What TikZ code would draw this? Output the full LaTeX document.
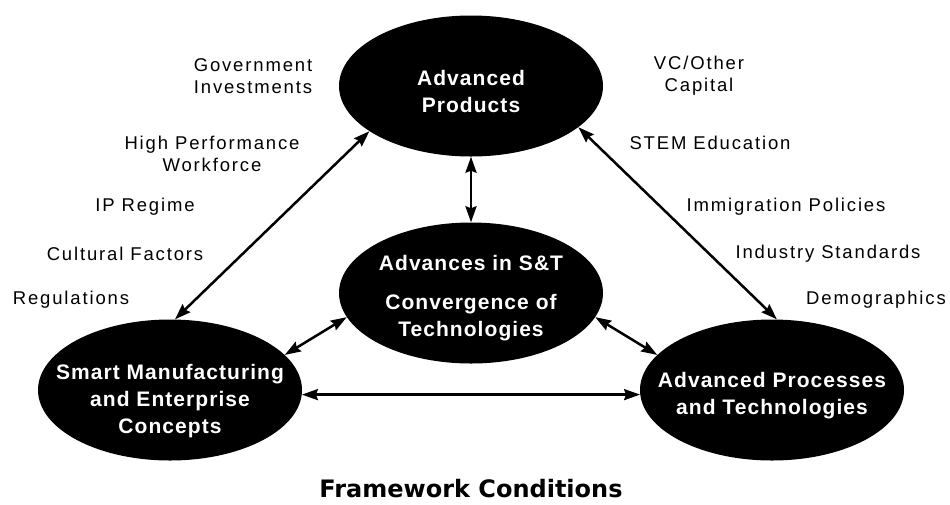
\documentclass[tikz,border=0pt]{standalone}
\usepackage{fontspec}
\setmainfont{Liberation Sans}
\newfontfamily\lblfont[LetterSpace=10]{Liberation Sans}
\newfontfamily\ovalfont[LetterSpace=5]{Liberation Sans}
\newfontfamily\headfont{DejaVu Sans}
\usetikzlibrary{shapes.geometric,arrows.meta}
\begin{document}
\begin{tikzpicture}[x=1pt,y=-1pt,line cap=round,line join=round,>={Stealth[length=16pt,width=11pt,inset=2pt]},
	oval/.style={ellipse,fill=black,inner sep=0pt,minimum width=264pt,minimum height=141pt},
	ovaltxt/.style={text=white,align=center,inner sep=0pt,font=\ovalfont\bfseries\fontsize{21}{27}\selectfont},
	lbl/.style={align=center,inner sep=0pt,font=\lblfont\fontsize{18.5}{22}\selectfont},
	link/.style={<->,line width=2.5pt}]
	\useasboundingbox (0,0) rectangle (950,504);
	\node[oval] (prod) at (471,86) {};
	\node[oval] (sci) at (471,293) {};
	\node[oval] (mfg) at (170,390) {};
	\node[oval] (proc) at (772,390) {};
	\node[ovaltxt] (prodtxt) at (471,91) {Advanced\\Products};
	\node[ovaltxt] (scitxt) at (471,298) {Advances in S\&T\\[12pt]Convergence of\\Technologies};
	\node[ovaltxt] (mfgtxt) at (170,401) {Smart Manufacturing\\and Enterprise\\Concepts};
	\node[ovaltxt] (proctxt) at (772,396) {Advanced Processes\\and Technologies};
	\draw[link] (prod.204) -- (mfg.86);
	\draw[link] (prod.339) -- (proc.86);
	\draw[link] (prod.270) -- (sci.90);
	\draw[link] (sci.191) -- (mfg.17);
	\draw[link] (sci.349) -- (proc.163);
	\draw[link] (mfg.358) -- (proc.182);
	\node[lbl] (gov) at (253,76) {Government\\Investments};
	\node[lbl] (hpw) at (212,154) {High Performance\\Workforce};
	\node[lbl] (ipr) at (145,207) {IP Regime};
	\node[lbl] (cult) at (125,254) {Cultural Factors};
	\node[lbl] (regs) at (71,300) {Regulations};
	\node[lbl] (vc) at (699,76) {VC/Other\\Capital};
	\node[lbl] (stem) at (710,143) {STEM Education};
	\node[lbl] (immig) at (786,207) {Immigration Policies};
	\node[lbl] (stds) at (828,254) {Industry Standards};
	\node[lbl] (demog) at (876,300) {Demographics};
	\node[font=\headfont\bfseries\fontsize{24}{28}\selectfont,inner sep=0pt] (frame) at (471,489) {Framework Conditions};
\end{tikzpicture}
\end{document}
